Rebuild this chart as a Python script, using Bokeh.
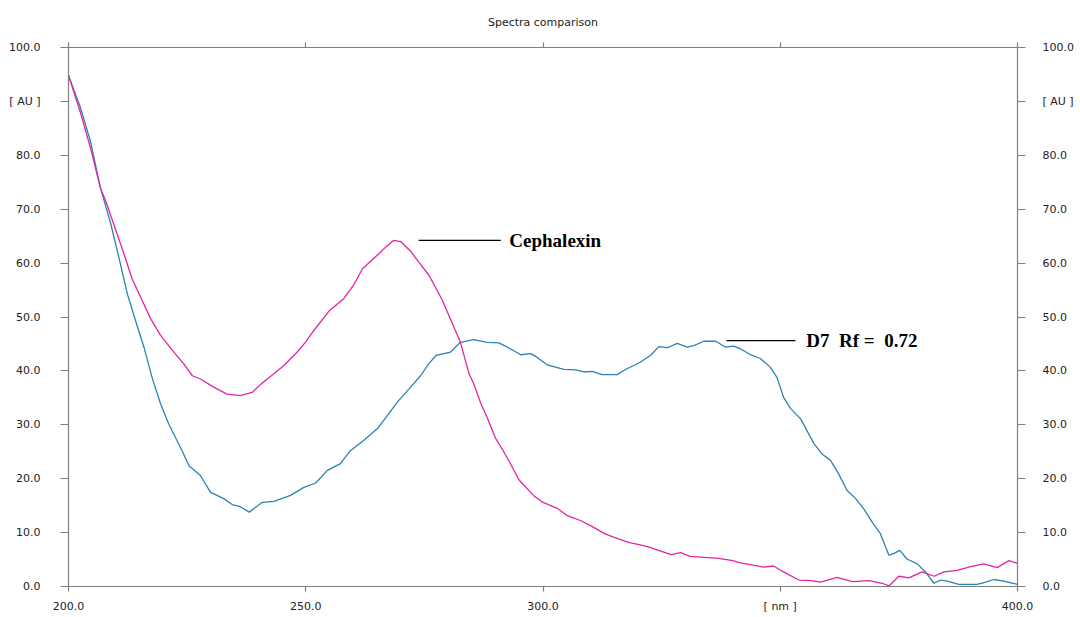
from bokeh.plotting import figure
from bokeh.models import Range1d, LinearAxis, FixedTicker
from bokeh.core.properties import value
from bokeh.embed import file_html
from bokeh.resources import INLINE

# ---------------- data ----------------
title_text = "Spectra comparison"

wl_ceph = [200.0, 202.5, 204.6, 206.7, 207.8, 209.5, 211.7, 213.4, 215.5, 217.3, 219.4, 221.9,
           224.3, 226.1, 227.8, 230.6, 233.4, 236.2, 238.7, 240.5, 241.9, 245.4, 248.2, 250.0,
           251.7, 255.0, 258.0, 260.0, 262.0, 265.0, 267.0, 268.5, 270.0, 272.0, 274.0, 276.0,
           278.8, 280.5, 282.6, 284.4, 285.4, 286.8, 288.2, 290.0, 291.4, 293.0, 295.0, 298.0,
           300.0, 303.0, 305.0, 308.0, 310.0, 313.0, 315.0, 318.0, 320.0, 322.0, 325.0, 327.0,
           329.0, 331.0, 334.0, 337.0, 340.0, 341.6, 344.0, 346.5, 348.6, 350.7, 353.9, 356.4,
           358.5, 362.0, 365.2, 368.7, 371.5, 372.9, 375.0, 377.1, 379.9, 382.4, 384.5, 387.3,
           390.1, 392.9, 395.7, 398.2, 400.0]
abs_ceph = [94.8, 88.0, 81.5, 74.0, 71.6, 67.3, 61.7, 57.1, 53.1, 49.7, 46.6, 43.8,
            41.3, 39.1, 38.5, 37.0, 35.7, 35.4, 36.0, 37.5, 38.5, 41.0, 43.5, 45.4,
            47.5, 51.2, 53.4, 55.8, 59.0, 61.4, 63.1, 64.2, 64.0, 62.3, 60.0, 57.7,
            53.1, 49.6, 45.3, 39.5, 37.6, 34.2, 31.4, 27.5, 25.5, 23.0, 19.7, 16.9,
            15.6, 14.5, 13.2, 12.2, 11.3, 9.8, 9.1, 8.2, 7.8, 7.4, 6.5, 5.9,
            6.3, 5.6, 5.4, 5.2, 4.8, 4.4, 4.0, 3.6, 3.8, 2.7, 1.2, 1.1,
            0.8, 1.7, 0.9, 1.1, 0.6, 0.1, 1.9, 1.6, 2.7, 1.9, 2.7, 3.0,
            3.7, 4.2, 3.5, 4.8, 4.3]

wl_d7 = [200.0, 202.5, 204.6, 206.7, 208.9, 210.6, 212.4, 214.1, 215.9, 217.6, 219.4, 221.1,
         223.6, 225.4, 227.8, 229.9, 232.7, 234.5, 236.2, 238.1, 240.8, 243.3, 246.8, 249.6,
         252.1, 254.5, 257.3, 259.4, 262.2, 265.1, 267.2, 269.3, 272.1, 274.2, 275.9, 277.5,
         280.5, 282.6, 285.4, 288.2, 290.7, 292.5, 295.3, 297.4, 298.8, 300.9, 304.4, 306.9,
         308.6, 310.4, 312.5, 315.6, 317.7, 320.5, 322.7, 324.4, 326.2, 328.3, 330.4, 331.8,
         333.9, 336.4, 338.5, 340.2, 341.6, 343.7, 345.8, 347.9, 349.3, 350.7, 352.2, 354.3,
         357.1, 358.8, 360.6, 362.3, 364.1, 365.9, 367.6, 369.4, 371.1, 372.9, 373.9, 375.2,
         376.7, 378.9, 380.6, 382.4, 383.8, 385.2, 387.6, 391.5, 393.3, 395.0, 397.1, 400.0]
abs_d7 = [94.8, 88.9, 82.7, 74.1, 67.3, 61.1, 54.3, 49.4, 44.4, 38.8, 33.9, 30.2,
          25.8, 22.4, 20.6, 17.5, 16.3, 15.2, 14.8, 13.8, 15.6, 15.8, 16.9, 18.4,
          19.2, 21.5, 22.8, 25.2, 27.1, 29.3, 31.7, 34.2, 37.0, 39.1, 41.3, 42.9,
          43.5, 45.3, 45.8, 45.3, 45.2, 44.4, 43.0, 43.2, 42.5, 41.1, 40.3, 40.2,
          39.8, 39.9, 39.3, 39.3, 40.4, 41.6, 42.9, 44.5, 44.3, 45.1, 44.4, 44.7,
          45.5, 45.5, 44.4, 44.6, 44.1, 43.0, 42.3, 40.7, 38.8, 35.1, 33.0, 31.1,
          26.5, 24.6, 23.4, 20.9, 17.8, 16.3, 14.4, 11.9, 9.8, 5.8, 6.1, 6.7,
          5.1, 4.2, 2.7, 0.6, 1.2, 1.0, 0.4, 0.4, 0.8, 1.3, 1.0, 0.4]

y_ticks = [0, 10, 20, 30, 40, 50, 60, 70, 80, 90, 100]
y_tick_labels = ["0.0", "10.0", "20.0", "30.0", "40.0", "50.0", "60.0", "70.0", "80.0", "[ AU ]", "100.0"]
x_ticks = [200, 250, 300, 350, 400]
x_tick_labels = ["200.0", "250.0", "300.0", "[ nm ]", "400.0"]

label_ceph = "Cephalexin"
label_d7 = "D7\u00a0 Rf =\u00a0 0.72"

# ---------------- figure ----------------
AXIS_COLOR = "#7f7f7f"
TEXT_COLOR = "#222222"
TICK_FONT = "DejaVu Sans"

p = figure(width=1078, height=615,
           x_range=Range1d(200, 400), y_range=Range1d(0, 100),
           output_backend="svg", toolbar_location=None,
           x_axis_location=None, y_axis_location=None,
           min_border_left=68, min_border_right=61,
           min_border_top=47, min_border_bottom=29,
           title=title_text)
p.outline_line_color = None
p.xgrid.visible = False
p.ygrid.visible = False
p.background_fill_color = "white"
p.border_fill_color = "white"

p.title.align = "center"
p.title.vertical_align = "top"
p.title.text_font = TICK_FONT
p.title.text_font_size = "11px"
p.title.text_font_style = "normal"
p.title.text_color = TEXT_COLOR
p.title.standoff = 24


def style_axis(ax, tick_out, standoff, labels=True):
    ax.axis_line_color = AXIS_COLOR
    ax.axis_line_width = 1.2
    ax.major_tick_line_color = AXIS_COLOR
    ax.major_tick_line_width = 1.2
    ax.major_tick_out = tick_out
    ax.major_tick_in = 0
    ax.minor_tick_line_color = None
    ax.major_label_standoff = standoff
    ax.major_label_text_font = TICK_FONT
    ax.major_label_text_font_size = "11px"
    ax.major_label_text_color = TEXT_COLOR
    if not labels:
        ax.major_label_text_font_size = "1px"
        ax.major_label_text_alpha = 0


yt = FixedTicker(ticks=y_ticks)
xt = FixedTicker(ticks=x_ticks)
ylab = {t: s for t, s in zip(y_ticks, y_tick_labels)}
xlab = {t: s for t, s in zip(x_ticks, x_tick_labels)}

left = LinearAxis(ticker=yt, major_label_overrides=ylab)
style_axis(left, 8, 20)
right = LinearAxis(ticker=yt, major_label_overrides=ylab)
style_axis(right, 8, 17)
bottom = LinearAxis(ticker=xt, major_label_overrides=xlab)
style_axis(bottom, 5, 8)
top = LinearAxis(ticker=xt)
style_axis(top, 5, 0, labels=False)

p.add_layout(left, "left")
p.add_layout(right, "right")
p.add_layout(bottom, "below")
p.add_layout(top, "above")

# ---------------- curves ----------------
p.line(wl_d7, abs_d7, line_color="#2b83b3", line_width=1.3)
p.line(wl_ceph, abs_ceph, line_color="#e0269f", line_width=1.3)

# ---------------- annotations ----------------
p.segment(x0=[273.8, 338.7], y0=[64.2, 45.6], x1=[291.1, 353.2], y1=[64.2, 45.6],
          line_color="black", line_width=1.2)
p.text(x=[292.9, 355.5], y=[64.2, 45.7], text=[label_ceph, label_d7],
       text_font=value("Liberation Serif"), text_font_style="bold",
       text_font_size="19px", text_color="black", text_baseline="middle")

open("out.html", "w").write(file_html(p, INLINE))
